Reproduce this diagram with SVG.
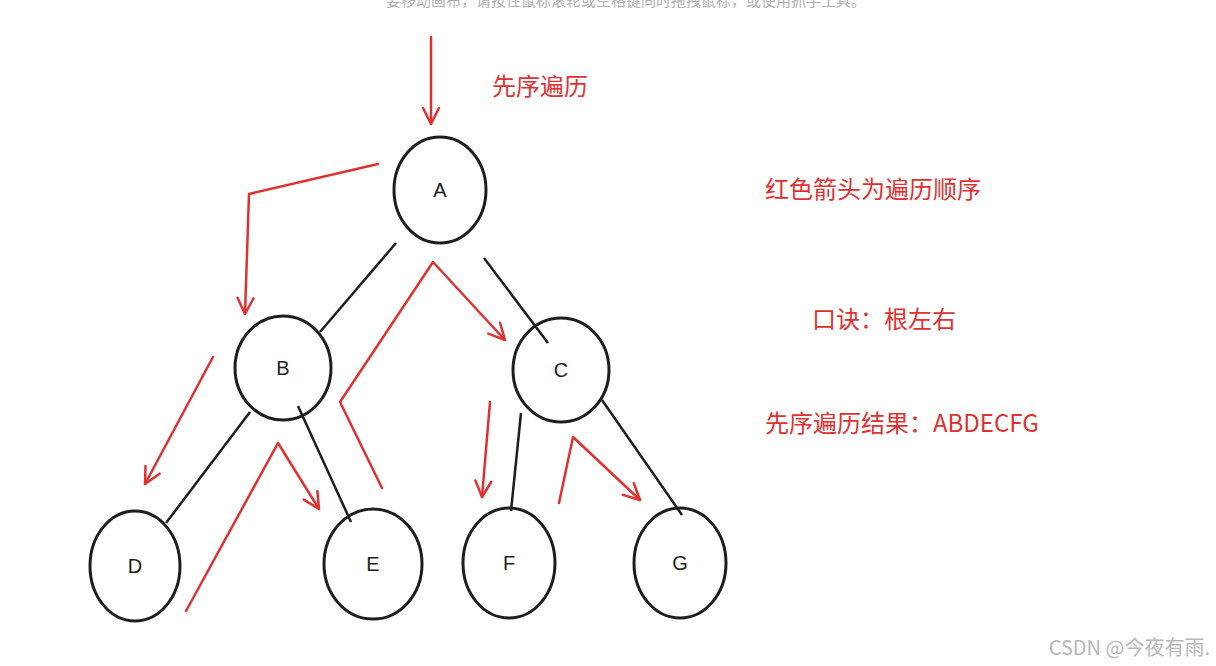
<svg xmlns="http://www.w3.org/2000/svg" width="1216" height="666" viewBox="0 0 1216 666">
<defs>
<style>
.n{fill:none;stroke:#1e1e1e;stroke-width:3}
.t{font-family:"Liberation Sans",sans-serif;font-size:20px;fill:#1e1e1e;text-anchor:middle}
.e{stroke:#1e1e1e;stroke-width:2.5;fill:none}
.r{stroke:#e03131;stroke-width:2.5;fill:none;stroke-linecap:round;stroke-linejoin:round}
.lbl{font-family:"Noto Sans CJK SC",sans-serif;font-size:24px;fill:#e03131}
</style>
<marker id="ah" viewBox="0 0 20 20" refX="18" refY="10" markerWidth="20" markerHeight="20" markerUnits="userSpaceOnUse" orient="auto"><path d="M2 2 L18 10 L2 18" fill="none" stroke="#e03131" stroke-width="2.5" stroke-linecap="round" stroke-linejoin="round"/></marker>
</defs>
<rect width="1216" height="666" fill="#fff"/>
<text x="626" y="6" font-family="Noto Sans CJK SC,sans-serif" font-size="15" fill="#b0b0b0" text-anchor="middle">要移动画布，请按住鼠标滚轮或空格键同时拖拽鼠标，或使用抓手工具。</text>
<g id="connectors">
<path class="e" d="M396 243 L320 332"/>
<path class="e" d="M484 258 L548 343"/>
<path class="e" d="M250 412 L166 523"/>
<path class="e" d="M298 406 L351 522"/>
<path class="e" d="M521 413 L511 511"/>
<path class="e" d="M602 400 L682 515"/>
<path class="r" marker-end="url(#ah)" d="M431 37 L431 124"/>
<path class="r" marker-end="url(#ah)" d="M378 164 L249 194 L245 314"/>
<path class="r" marker-end="url(#ah)" d="M213 357 L145 484"/>
<path class="r" marker-end="url(#ah)" d="M186 611 L278 443 L319 509"/>
<path class="r" marker-end="url(#ah)" d="M382 488 L340 402 L433 262 L505 340"/>
<path class="r" marker-end="url(#ah)" d="M490 402 L482 497"/>
<path class="r" marker-end="url(#ah)" d="M559 503 L573 437 L640 500"/>
</g>
<g id="A"><ellipse class="n" cx="440" cy="190" rx="46" ry="53"/><text class="t" x="440" y="197">A</text></g>
<g id="B"><ellipse class="n" cx="283" cy="368" rx="48" ry="52"/><text class="t" x="283" y="375">B</text></g>
<g id="C"><ellipse class="n" cx="561" cy="370" rx="48" ry="52"/><text class="t" x="561" y="377">C</text></g>
<g id="D"><ellipse class="n" cx="135" cy="566" rx="45" ry="55"/><text class="t" x="135" y="573">D</text></g>
<g id="E"><ellipse class="n" cx="373" cy="564" rx="49" ry="55"/><text class="t" x="373" y="571">E</text></g>
<g id="F"><ellipse class="n" cx="509" cy="563" rx="46" ry="55"/><text class="t" x="509" y="570">F</text></g>
<g id="G"><ellipse class="n" cx="680" cy="563" rx="46" ry="55"/><text class="t" x="680" y="570">G</text></g>
<text class="lbl" x="492" y="95">先序遍历</text>
<text class="lbl" x="765" y="198">红色箭头为遍历顺序</text>
<text class="lbl" x="812" y="328">口诀：根左右</text>
<text class="lbl" x="765" y="432">先序遍历结果：ABDECFG</text>
<text x="1210" y="655" font-family="Noto Sans CJK SC,sans-serif" font-size="20" fill="#b8b8b8" text-anchor="end">CSDN @今夜有雨.</text>
</svg>
